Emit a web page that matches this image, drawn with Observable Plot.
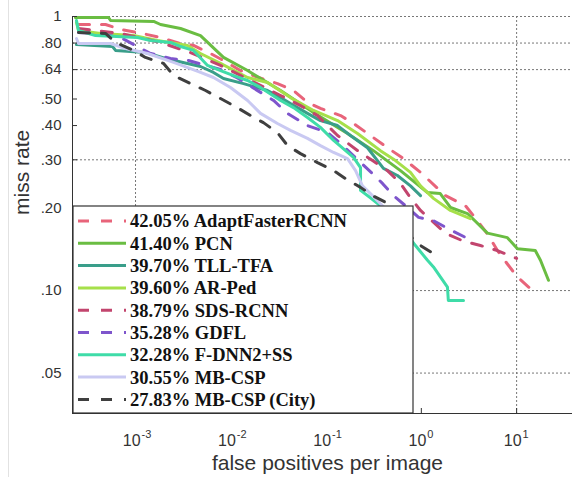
<!DOCTYPE html>
<html><head><meta charset="utf-8">
<script src="https://cdn.jsdelivr.net/npm/d3@7"></script>
<script src="https://cdn.jsdelivr.net/npm/@observablehq/plot@0.6"></script>
<style>
body{margin:0;background:#fff;}
#wrap{position:relative;width:572px;height:477px;}
#edge{position:absolute;left:8px;top:0;width:1px;height:477px;background:#e2e2e2;}
</style></head><body><div id="wrap"><div id="edge"></div></div>
<script>
// ---- data ----
const methods = ["42.05% AdaptFasterRCNN","41.40% PCN","39.70% TLL-TFA","39.60% AR-Ped","38.79% SDS-RCNN","35.28% GDFL","32.28% F-DNN2+SS","30.55% MB-CSP","27.83% MB-CSP (City)"];
const colors = ["#e8647a","#6abd42","#3a9e8a","#a6e04a","#c2456e","#7e55cc","#3fdca8","#c9c9f2","#3f3f3f"];
const dashed = [true,false,false,false,true,true,false,false,true];

const adaptFppi = [2.52e-4,4.84e-4,6.97e-4,1.18e-3,1.83e-3,2.97e-3,4.06e-3,6.12e-3,8.38e-3,0.0126,0.0195,0.0309,0.0455,0.0638,0.0873,0.142,0.194,0.292,0.441,0.649,0.98,1.79,2.90,3.88,5.06,6.29,8.00,10.2,14.7];
const adaptMr   = [0.935,0.935,0.897,0.867,0.838,0.797,0.784,0.733,0.691,0.635,0.599,0.569,0.537,0.486,0.462,0.435,0.407,0.368,0.332,0.303,0.270,0.222,0.204,0.180,0.159,0.140,0.125,0.112,0.100];

const pcnFppi = [2.34e-4,5.21e-4,5.47e-4,1.55e-3,1.83e-3,2.97e-3,4.81e-3,8.38e-3,0.0150,0.0333,0.0738,0.168,0.314,0.604,1.16,1.58,2.02,3.05,4.94,8.00,10.2,15.7,17.8,21.6];
const pcnMr   = [0.992,0.992,0.967,0.959,0.935,0.904,0.852,0.709,0.635,0.537,0.446,0.374,0.324,0.274,0.228,0.226,0.201,0.191,0.162,0.156,0.142,0.140,0.129,0.109];

const tllFppi = [2.40e-4,5.74e-4,6.17e-4,1.27e-3,2.07e-3,4.81e-3,6.58e-3,8.38e-3,0.0136,0.0243,0.0333,0.0423,0.0638,0.0873,0.132,0.180,0.272,0.400,0.561,0.769,0.98];
const tllMr   = [0.790,0.777,0.752,0.739,0.703,0.657,0.625,0.594,0.569,0.537,0.506,0.481,0.443,0.417,0.400,0.368,0.332,0.279,0.263,0.241,0.222];

const arFppi = [2.40e-4,2.52e-4,4.29e-4,9.53e-4,1.70e-3,3.52e-3,4.81e-3,7.80e-3,0.0150,0.0243,0.0423,0.0738,0.132,0.214,0.372,0.535,0.769,0.98,1.34,2.02,3.27];
const arMr   = [0.951,0.889,0.867,0.852,0.817,0.784,0.733,0.674,0.599,0.574,0.506,0.454,0.417,0.374,0.324,0.298,0.270,0.241,0.217,0.196,0.183];

const sdsFppi = [2.52e-4,6.97e-4,1.83e-3,3.78e-3,7.80e-3,0.0161,0.0333,0.0539,0.0813,0.132,0.214,0.307,0.441,0.604,0.769,0.98,1.79,2.70,4.17,6.29,10.0];
const sdsMr   = [0.904,0.867,0.804,0.739,0.663,0.584,0.515,0.473,0.435,0.368,0.324,0.298,0.274,0.246,0.218,0.196,0.162,0.152,0.146,0.140,0.131];

const gdflFppi = [2.52e-4,4.29e-4,6.97e-4,1.0e-3,1.44e-3,2.33e-3,3.60e-3,5.43e-3,7.80e-3,0.0120,0.0169,0.0281,0.0394,0.0638,0.1035,0.142,0.219,0.307,0.391,0.509,0.681,0.935,1.34,1.92,3.05];
const gdflMr   = [0.874,0.867,0.838,0.784,0.733,0.703,0.691,0.663,0.641,0.594,0.551,0.494,0.443,0.400,0.377,0.344,0.298,0.267,0.246,0.222,0.204,0.185,0.180,0.168,0.155];

const fdnnFppi = [2.40e-4,2.52e-4,3.80e-4,1.05e-3,1.44e-3,2.33e-3,2.97e-3,4.06e-3,5.70e-3,7.80e-3,0.0107,0.0150,0.0205,0.0333,0.0455,0.0638,0.0873,0.120,0.194,0.230,0.230,0.292,0.372,0.604,0.867,1.16,1.34,1.88,1.92,2.77];
const fdnnMr   = [0.967,0.889,0.852,0.838,0.817,0.804,0.777,0.752,0.663,0.635,0.609,0.584,0.551,0.494,0.465,0.428,0.394,0.353,0.306,0.281,0.232,0.218,0.204,0.173,0.146,0.129,0.122,0.103,0.092,0.092];

const mbFppi = [2.40e-4,2.52e-4,5.47e-4,7.85e-4,1.34e-3,2.51e-3,4.81e-3,6.58e-3,9.93e-3,0.0150,0.0205,0.0309,0.0423,0.0638,0.0873,0.120,0.168,0.204,0.241,0.307,0.391,0.604];
const mbMr   = [0.831,0.797,0.797,0.764,0.733,0.680,0.625,0.599,0.551,0.494,0.443,0.407,0.384,0.359,0.338,0.319,0.303,0.274,0.241,0.222,0.204,0.173];

const cityFppi = [2.52e-4,4.84e-4,6.17e-4,9.53e-4,1.27e-3,1.97e-3,2.51e-3,3.78e-3,5.43e-3,7.80e-3,0.0117,0.0161,0.0220,0.0309,0.0394,0.0539,0.0813,0.120,0.160,0.230,0.307,0.420,0.604,0.867,1.31];
const cityMr   = [0.874,0.867,0.804,0.752,0.709,0.674,0.609,0.569,0.537,0.502,0.465,0.435,0.410,0.377,0.338,0.316,0.293,0.274,0.256,0.238,0.222,0.210,0.177,0.150,0.137];

const yTicks = [1,0.8,0.64,0.5,0.4,0.3,0.2,0.1,0.05];
const yTickLabels = ["1",".80",".64",".50",".40",".30",".20",".10",".05"];
const yGrid = [1,0.8,0.64,0.3,0.1,0.05];
const xTicks = [1e-3,1e-2,1e-1,1,10];
const xTickExp = ["-3","-2","-1","0","1"];
const xGrid = [1e-3,10];
const xDomain = [2.18e-4,38.6];
const yDomain = [0.0356,1];

// ---- build ----
const seriesF = [adaptFppi,pcnFppi,tllFppi,arFppi,sdsFppi,gdflFppi,fdnnFppi,mbFppi,cityFppi];
const seriesM = [adaptMr,pcnMr,tllMr,arMr,sdsMr,gdflMr,fdnnMr,mbMr,cityMr];
const DASH = "11,12";

const lineMarks = methods.map((m,k) => Plot.line(
  seriesF[k].map((f,i)=>({fppi:f, mr:seriesM[k][i]})),
  {x:"fppi", y:"mr", stroke:colors[k], strokeWidth:3, strokeDasharray: dashed[k]?DASH:null, strokeLinejoin:"round"}
));
const yTickData = yTicks.map((v,i)=>({v, label:yTickLabels[i]}));
const xTickData = xTicks.map((v,i)=>({v, exp:xTickExp[i]}));

const chart = Plot.plot({
  width:572, height:477,
  marginLeft:72, marginRight:0, marginTop:16, marginBottom:64,
  style:{fontFamily:"'Liberation Sans', Arial, sans-serif", fontSize:"14px", background:"transparent", color:"#222", overflow:"visible"},
  x:{type:"log", domain:xDomain},
  y:{type:"log", domain:yDomain},
  marks:[
    Plot.ruleY(yGrid, {stroke:"#777", strokeDasharray:"2,2", strokeWidth:1}),
    Plot.ruleX(xGrid, {stroke:"#777", strokeDasharray:"2,2", strokeWidth:1}),
    ...lineMarks,
    Plot.ruleX([xDomain[0]], {stroke:"#333", strokeWidth:1}),
    Plot.ruleY([yDomain[0]], {stroke:"#333", strokeWidth:1}),
    Plot.axisY(yTicks, {tickSize:-5, fill:"none", label:null, stroke:"#333"}),
    Plot.text(yTickData, {y:"v", frameAnchor:"left", text:"label", textAnchor:"end", dx:-11, fontSize:15, fill:"#333"}),
    Plot.axisX(xTicks, {tickSize:-5, fill:"none", label:null, stroke:"#333"}),
    Plot.text(xTickData, {x:"v", frameAnchor:"bottom", text:()=>"10", textAnchor:"end", lineAnchor:"bottom", dx:5, dy:32, fontSize:16, fill:"#333"}),
    Plot.text(xTickData, {x:"v", frameAnchor:"bottom", text:"exp", textAnchor:"start", lineAnchor:"bottom", dx:6, dy:24, fontSize:11, fill:"#333"}),
    Plot.text(["false positives per image"], {frameAnchor:"bottom", text:d=>d, lineAnchor:"bottom", dx:5, dy:56, fontSize:21, fill:"#333"}),
    Plot.text(["miss rate"], {frameAnchor:"left", text:d=>d, rotate:-90, lineAnchor:"bottom", dx:-44, fontSize:21, fill:"#333"})
  ]
});
document.getElementById("wrap").appendChild(chart);

// ---- legend (inside plot, white box) ----
const svg = d3.select(chart);
const lg = svg.append("g").attr("class","legend").attr("text-anchor","start");
lg.append("rect").attr("x",73).attr("y",206).attr("width",340).attr("height",207)
  .attr("fill","#fff").attr("stroke","#333").attr("stroke-width",1.2);
methods.forEach((m,k)=>{
  const cy = 221 + k*22.3;
  lg.append("line").attr("x1",78).attr("x2",126).attr("y1",cy).attr("y2",cy)
    .attr("stroke",colors[k]).attr("stroke-width",3)
    .attr("stroke-dasharray", dashed[k]?DASH:null);
  lg.append("text").attr("x",130).attr("y",cy).attr("dy","0.35em")
    .attr("text-anchor","start")
    .attr("font-family","'Liberation Serif','Times New Roman',serif").attr("font-weight","bold")
    .attr("font-size",18.5).attr("fill","#111").text(m);
});
</script></body></html>
